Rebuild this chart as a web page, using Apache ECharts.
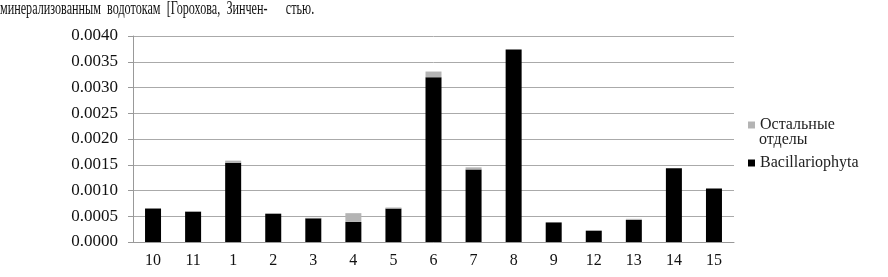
<!DOCTYPE html>
<html><head><meta charset="utf-8">
<script src="https://cdn.jsdelivr.net/npm/echarts@6/dist/echarts.min.js"></script>
<style>html,body{margin:0;padding:0;background:#fff}#c{width:888px;height:277px}</style>
</head><body><div id="c"></div>
<script>
const categories = ['10','11','1','2','3','4','5','6','7','8','9','12','13','14','15'];
const bacillariophyta = [0.00065,0.00059,0.00154,0.00055,0.00046,0.00039,0.00065,0.00320,0.00141,0.00374,0.00038,0.00022,0.00043,0.00143,0.00104];
const others = [0,0.00001,0.00004,0,0.00001,0.00017,0.00002,0.00011,0.00004,0,0,0,0.00002,0,0];
const seriesNames = ['Остальные', 'Bacillariophyta'];
const topText = 'минерализованным  водотокам  [Горохова,  Зинчен-      стью.';
const font = 'Liberation Serif';
const chart = echarts.init(document.getElementById('c'));
chart.setOption({
  animation: false,
  grid: {left: 133, right: 154, top: 36, bottom: 35},
  legend: {
    orient: 'vertical', left: 743, top: 112, itemWidth: 7, itemHeight: 7, itemGap: 22, icon: 'rect',
    data: seriesNames, textStyle: {fontFamily: font, fontSize: 16, color: '#222'}
  },
  graphic: [
    {type: 'text', left: 0, top: 0, scaleX: 0.64, style: {text: topText, font: '19px "Liberation Serif"', fill: '#111'}},
    {type: 'text', left: 759, top: 132, style: {text: 'отделы', font: '16px "Liberation Serif"', fill: '#222'}}
  ],
  xAxis: {
    type: 'category', data: categories,
    axisLine: {lineStyle: {color: '#999'}},
    axisTick: {length: 4, lineStyle: {color: '#999'}},
    axisLabel: {fontFamily: font, fontSize: 16, color: '#111', margin: 11}
  },
  yAxis: {
    type: 'value', min: 0, max: 0.004, interval: 0.0005,
    axisLine: {show: true, lineStyle: {color: '#999'}},
    axisTick: {show: true, length: 5, lineStyle: {color: '#999'}},
    splitLine: {lineStyle: {color: '#aaa'}},
    axisLabel: {fontFamily: font, fontSize: 17, color: '#111', margin: 15, formatter: v => v.toFixed(4)}
  },
  series: [
    {name: 'Bacillariophyta', type: 'bar', stack: 's', data: bacillariophyta, barWidth: 16, itemStyle: {color: '#000'}},
    {name: 'Остальные', type: 'bar', stack: 's', data: others, barWidth: 16, itemStyle: {color: '#b4b4b4'}}
  ]
});
</script></body></html>
